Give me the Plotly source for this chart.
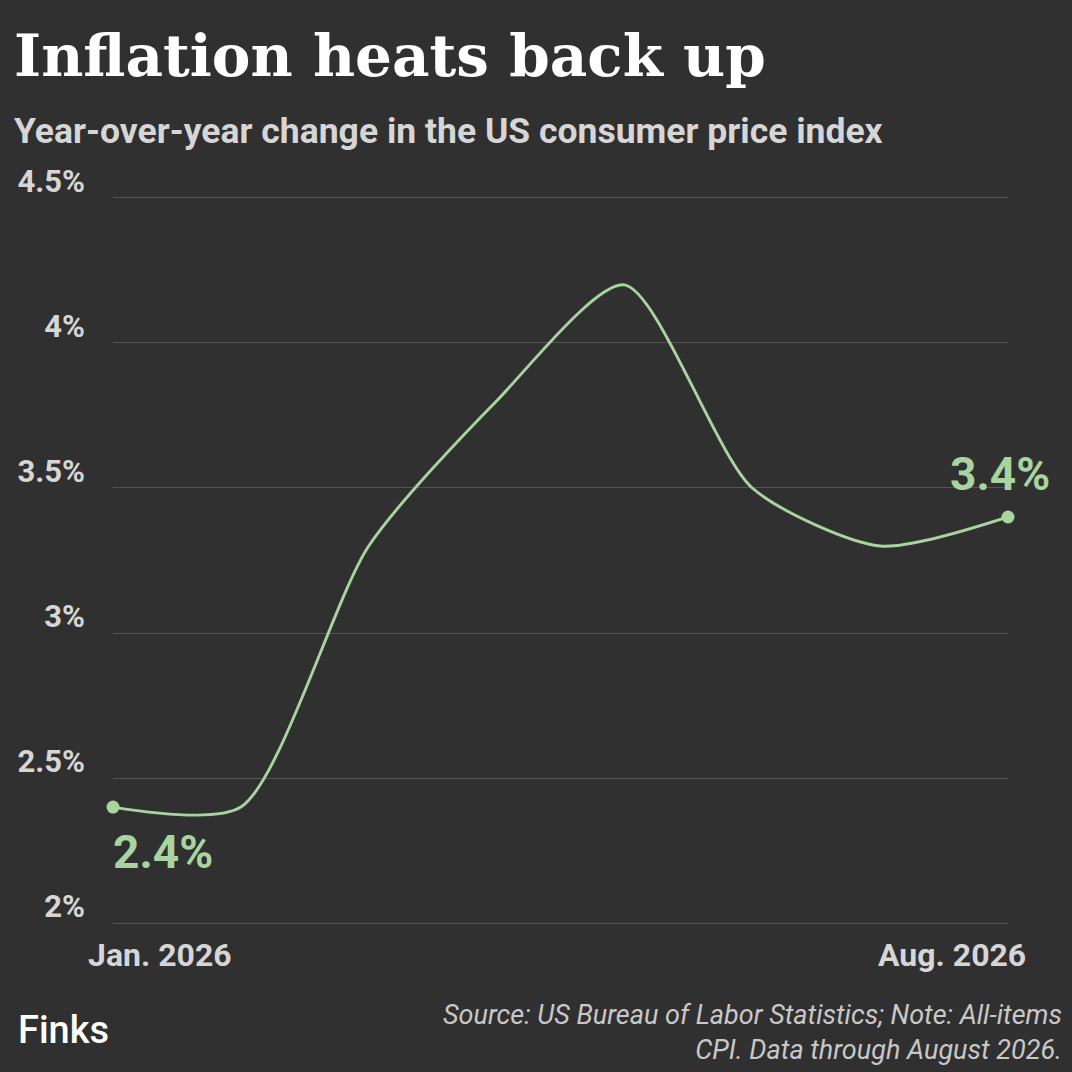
import plotly.graph_objects as go

# monthly CPI, year-over-year %
months = ["Jan", "Feb", "Mar", "Apr", "May", "Jun", "Jul", "Aug"]
cpi_yoy = [2.4, 2.4, 3.3, 3.8, 4.2, 3.5, 3.3, 3.4]

y_ticks = [2, 2.5, 3, 3.5, 4, 4.5]
y_ticktext = ["2%", "2.5%", "3%", "3.5%", "4%", "4.5%"]
x_end_labels = ["Jan. 2026", "Aug. 2026"]

bg = "#303030"
green = "#a8d4a0"
grey_txt = "#d6d6d6"

fig = go.Figure()
fig.add_trace(go.Scatter(
    x=months, y=cpi_yoy,
    mode="lines",
    line=dict(color=green, width=2.9, shape="spline", smoothing=0.7),
    hoverinfo="skip",
    cliponaxis=False,
))
# end point dots
fig.add_trace(go.Scatter(
    x=[months[0], months[-1]], y=[cpi_yoy[0], cpi_yoy[-1]],
    mode="markers",
    marker=dict(color=green, size=13),
    hoverinfo="skip",
    cliponaxis=False,
))

fig.update_xaxes(
    type="category", range=[0, len(months) - 1],
    showgrid=False, showticklabels=False, zeroline=False, showline=False,
)
# range padded a bit so the 2% and 4.5% grid lines are not dropped at the edges
fig.update_yaxes(
    range=[1.99, 4.51], tickvals=y_ticks, ticktext=y_ticktext,
    ticklabelposition="outside top", ticklabelstandoff=27, ticklabelshift=5,
    showgrid=True, gridcolor="#555555", gridwidth=1,
    zeroline=False, showline=False,
    tickfont=dict(family="Roboto", size=31, color=grey_txt, weight="bold"),
)

anns = []
# end value labels
anns.append(dict(x=months[0], y=cpi_yoy[0], text=f"{cpi_yoy[0]}%", showarrow=False,
                 xanchor="left", yanchor="middle", xshift=-2, yshift=-45,
                 font=dict(family="Roboto", size=46, color=green, weight="bold")))
anns.append(dict(x=months[-1], y=cpi_yoy[-1], text=f"{cpi_yoy[-1]}%", showarrow=False,
                 xanchor="center", yanchor="middle", xshift=-8, yshift=43,
                 font=dict(family="Roboto", size=46, color=green, weight="bold")))
# x end labels
anns.append(dict(x=months[0], y=0, yref="paper", text=x_end_labels[0], showarrow=False,
                 xanchor="left", yanchor="middle", xshift=-27, yshift=-29,
                 font=dict(family="Roboto", size=32, color=grey_txt, weight="bold")))
anns.append(dict(x=months[-1], y=0, yref="paper", text=x_end_labels[1], showarrow=False,
                 xanchor="right", yanchor="middle", xshift=20, yshift=-29,
                 font=dict(family="Roboto", size=32, color=grey_txt, weight="bold")))
# title + subtitle
anns.append(dict(x=0, y=1, xref="paper", yref="paper", text="Inflation heats back up",
                 showarrow=False, xanchor="left", yanchor="middle", xshift=-101, yshift=139,
                 font=dict(family="DejaVu Serif", size=58, color="white", weight="bold")))
anns.append(dict(x=0, y=1, xref="paper", yref="paper",
                 text="Year-over-year change in the US consumer price index",
                 showarrow=False, xanchor="left", yanchor="middle", xshift=-101, yshift=64,
                 font=dict(family="Roboto", size=35.5, color=grey_txt, weight="bold")))
# footer
anns.append(dict(x=0, y=0, xref="paper", yref="paper", text="Finks", showarrow=False,
                 xanchor="left", yanchor="middle", xshift=-97, yshift=-104,
                 font=dict(family="Roboto", size=38, color="white", weight=500)))
anns.append(dict(x=1, y=0, xref="paper", yref="paper",
                 text="Source: US Bureau of Labor Statistics; Note: All-items<br>CPI. Data through August 2026.",
                 showarrow=False, xanchor="right", yanchor="middle", align="right",
                 xshift=56, yshift=-106,
                 font=dict(family="Roboto", size=27, color="#c8c8c8", style="italic")))

fig.update_layout(
    width=1072, height=1072,
    paper_bgcolor=bg, plot_bgcolor=bg,
    margin=dict(l=113, r=64, t=195, b=146),
    showlegend=False,
    annotations=anns,
)

fig.write_html("out.html", config={"displayModeBar": False},
               post_script="document.body.style.margin='0';")
